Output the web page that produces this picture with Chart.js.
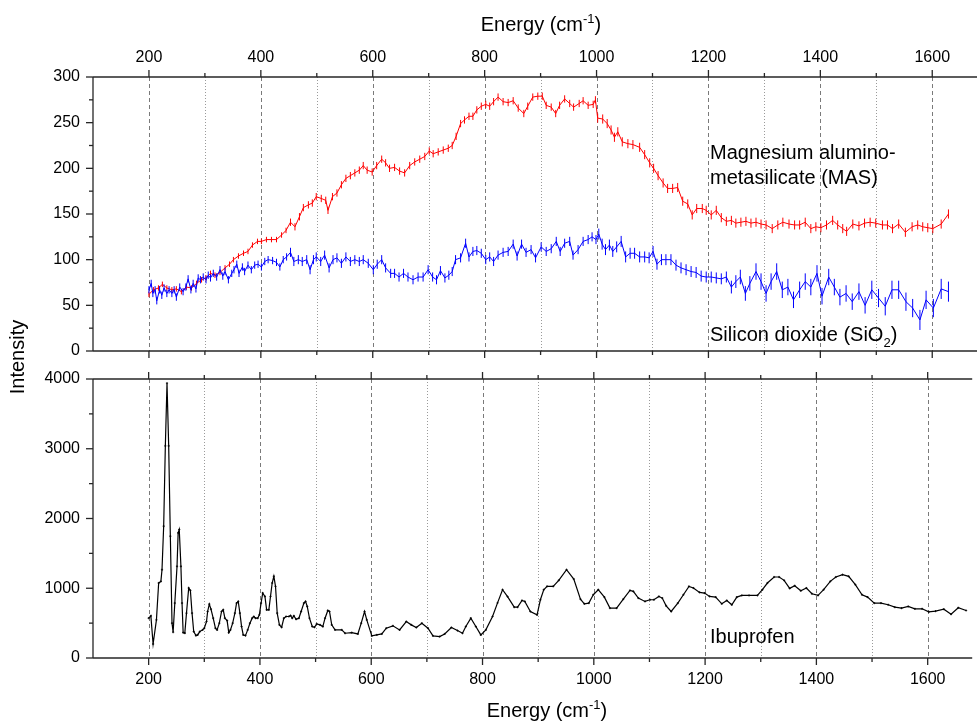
<!DOCTYPE html>
<html>
<head>
<meta charset="utf-8">
<script src="https://cdn.jsdelivr.net/npm/chart.js@4.4.1/dist/chart.umd.min.js"></script>
<style>
  html, body { margin: 0; padding: 0; background: #ffffff; }
  #wrap { position: relative; width: 977px; height: 722px; overflow: hidden; }
  canvas { position: absolute; left: 0; top: 0; }
</style>
</head>
<body>
<div id="wrap">
  <canvas id="topPanel" width="977" height="722"></canvas>
  <canvas id="bottomPanel" width="977" height="722"></canvas>
</div>
<script>
// ---------------- data ----------------
// Magnesium alumino-metasilicate (MAS): [energy cm-1, intensity, error]
const masPoints = [
  [200,62,3],[208,67,3],[217,69,3],[224,73,3],[232,69,3],[241,67,3],[249,68,3],[258,65,3],[267,70,3],[276,69,3],
  [285,74,3],[294,78,3],[302,80,3],[310,85,3],[318,83,3],[327,86,3],[336,91,3],[344,95,3],[351,100,3],[360,104,3],
  [369,107,3],[377,109,3],[385,116,3],[394,120,3],[401,120,3],[410,122,3],[419,122,3],[428,122,3],[437,127,3],[445,132,3],
  [453,141,4],[461,136,4],[469,147,4],[476,157,4],[485,160,4],[492,162,4],[499,169,4],[508,167,4],[516,165,4],[520,154,4],
  [528,169,4],[536,173,4],[544,182,4],[552,189,4],[560,192,4],[568,195,4],[576,198,4],[583,203,4],[590,198,4],[599,196,4],
  [607,203,4],[616,210,4],[623,206,4],[630,200,4],[639,201,4],[648,197,4],[657,195,4],[666,203,4],[675,207,4],[684,210,4],
  [693,213,4],[701,219,4],[708,216,4],[717,218,4],[726,220,4],[735,222,4],[742,225,4],[749,235,4],[757,249,4],[764,253,4],
  [772,257,4],[779,257,4],[786,264,4],[794,268,4],[802,270,4],[809,268,4],[816,273,4],[824,278,4],[833,273,4],[842,272,4],
  [851,274,4],[860,266,4],[870,260,4],[877,268,4],[886,278,4],[895,279,4],[903,279,4],[910,269,4],[919,267,4],[927,260,4],
  [934,269,4],[943,276,4],[952,271,4],[959,267,4],[969,271,4],[976,274,4],[985,269,4],[994,270,4],[998,275,4],[1002,255,5],
  [1011,254,5],[1019,249,5],[1026,242,5],[1032,234,5],[1038,240,5],[1046,229,5],[1056,227,5],[1065,226,5],[1077,223,5],[1086,215,5],
  [1095,206,5],[1102,200,5],[1110,192,5],[1119,184,5],[1127,178,5],[1136,178,5],[1145,179,5],[1154,164,5],[1163,161,5],[1171,149,5],
  [1179,156,5],[1189,156,5],[1196,154,5],[1205,149,5],[1214,154,5],[1223,146,5],[1232,142,5],[1241,143,5],[1249,140,5],[1258,141,5],
  [1267,142,5],[1276,140,5],[1285,141,5],[1294,139,5],[1303,138,5],[1314,134,5],[1324,138,5],[1333,141,5],[1344,139,5],[1354,138,5],
  [1363,138,5],[1373,141,5],[1383,134,5],[1392,136,5],[1401,135,5],[1411,138,5],[1422,143,5],[1431,138,5],[1440,134,5],[1447,131,5],
  [1458,139,5],[1469,137,5],[1479,140,5],[1489,141,5],[1499,140,5],[1511,138,5],[1520,138,5],[1529,134,5],[1540,139,5],[1552,130,5],
  [1564,136,5],[1574,138,5],[1583,136,5],[1592,135,5],[1601,134,5],[1616,139,5],[1629,150,5]
];

// Silicon dioxide (SiO2): [energy cm-1, intensity, error]
const sioPoints = [
  [200,67,4],[204,74,4],[207,63,4],[211,67,4],[214,55,4],[219,67,4],[223,61,4],[227,69,4],[232,63,4],[236,67,4],
  [241,63,4],[245,67,4],[249,59,4],[255,70,4],[261,65,4],[266,70,4],[270,79,4],[275,67,4],[279,74,4],[284,68,4],
  [288,80,4],[292,78,4],[297,81,4],[302,78,4],[306,83,4],[310,80,4],[315,85,4],[321,81,4],[327,89,4],[332,82,4],
  [336,87,4],[342,78,4],[348,85,4],[352,89,4],[357,95,4],[361,85,4],[367,92,4],[371,87,4],[377,94,4],[383,89,4],
  [389,94,4],[395,95,4],[401,92,4],[407,98,4],[413,100,4],[421,99,4],[428,97,4],[434,92,4],[440,100,4],[446,103,4],
  [453,108,5],[459,98,5],[467,100,5],[474,98,5],[482,100,5],[488,89,5],[494,100,5],[499,103,5],[507,98,5],[514,105,5],
  [522,91,5],[529,100,5],[536,102,5],[544,96,5],[552,103,5],[560,98,5],[568,100,5],[576,98,5],[583,100,5],[592,96,5],
  [601,89,5],[608,95,5],[616,100,5],[623,91,5],[632,85,5],[639,85,5],[647,81,5],[655,85,5],[663,81,5],[672,78,5],
  [681,81,5],[690,81,5],[699,89,5],[707,81,5],[714,78,5],[721,88,5],[729,80,5],[736,83,5],[742,87,5],[748,100,5],
  [757,102,5],[766,118,5],[772,103,5],[779,109,5],[786,110,5],[794,107,5],[802,100,5],[809,103,5],[816,98,5],[824,105,5],
  [833,108,5],[842,109,5],[851,117,5],[858,104,5],[866,117,5],[874,108,5],[883,111,5],[891,102,5],[901,114,5],[910,109,5],
  [919,112,5],[928,120,5],[935,109,5],[943,118,5],[952,120,5],[958,105,5],[967,111,5],[976,120,5],[985,122,5],[992,125,5],
  [999,122,5],[1004,128,6],[1010,117,6],[1016,111,6],[1023,116,6],[1029,109,6],[1036,114,6],[1044,120,6],[1052,103,6],[1060,107,6],
  [1068,107,6],[1077,103,6],[1086,103,6],[1094,102,6],[1101,109,6],[1108,95,6],[1116,100,6],[1124,100,6],[1133,100,6],[1142,94,6],
  [1151,91,6],[1160,89,6],[1169,87,6],[1178,86,6],[1187,82,6],[1196,81,6],[1205,81,6],[1214,80,6],[1223,79,6],[1232,81,6],
  [1241,70,7],[1249,76,7],[1257,81,8],[1266,63,8],[1274,74,8],[1285,87,9],[1294,76,9],[1303,63,9],[1312,76,9],[1322,87,9],
  [1332,67,9],[1342,70,9],[1352,56,9],[1363,67,9],[1373,76,9],[1383,70,9],[1394,85,9],[1403,60,9],[1415,81,9],[1425,70,9],
  [1435,59,9],[1446,63,9],[1457,54,9],[1469,65,9],[1480,50,9],[1492,67,10],[1504,58,10],[1516,49,10],[1528,67,10],[1540,67,10],
  [1553,54,10],[1565,47,10],[1578,34,11],[1589,56,10],[1602,47,10],[1616,68,11],[1629,65,11]
];

// Ibuprofen: [energy cm-1, intensity]
const ibuPoints = [
  [200,571],[204,604],[208,201],[214,547],[218,1075],[222,1098],[224,1266],[227,1890],[230,3041],[233,3940],
  [236,3041],[239,1746],[242,499],[244,370],[247,787],[251,1314],[253,1794],[255,1842],[258,1314],[260,787],
  [262,364],[265,357],[268,643],[272,1003],[275,969],[278,643],[281,379],[285,321],[288,331],[292,379],
  [297,403],[300,427],[304,523],[306,667],[309,772],[312,700],[316,571],[320,427],[323,403],[327,499],
  [331,667],[334,691],[337,571],[341,537],[344,364],[347,403],[351,499],[355,643],[358,787],[361,811],
  [364,643],[367,451],[370,331],[374,321],[378,403],[382,499],[386,571],[389,595],[392,571],[396,571],
  [399,619],[402,787],[405,931],[409,883],[412,691],[416,691],[419,883],[422,1075],[425,1171],[428,1027],
  [431,643],[435,475],[439,441],[443,571],[447,595],[452,595],[455,609],[458,571],[461,604],[465,556],
  [470,571],[474,667],[479,787],[482,811],[485,739],[489,571],[494,451],[498,441],[502,489],[508,475],
  [513,451],[517,571],[522,681],[525,667],[529,475],[535,403],[547,403],[553,355],[565,364],[576,345],
  [582,499],[588,667],[592,547],[601,317],[610,331],[619,345],[627,427],[639,461],[651,403],[663,523],
  [672,475],[681,437],[691,499],[702,427],[711,317],[723,307],[732,345],[744,437],[755,393],[764,355],
  [770,451],[779,571],[788,451],[797,331],[806,403],[818,595],[827,790],[836,979],[845,880],[857,729],
  [863,729],[871,825],[876,811],[886,667],[898,619],[904,835],[910,979],[916,1027],[927,1027],[937,1113],
  [951,1266],[964,1132],[976,844],[983,777],[991,787],[999,907],[1008,979],[1019,873],[1029,715],[1041,715],
  [1053,844],[1065,969],[1071,955],[1080,859],[1092,811],[1101,835],[1108,835],[1117,883],[1123,859],[1130,748],
  [1139,667],[1151,787],[1161,907],[1171,1027],[1179,1003],[1190,941],[1199,931],[1208,883],[1219,873],[1230,777],
  [1239,825],[1248,763],[1257,873],[1266,897],[1279,897],[1294,897],[1303,979],[1312,1075],[1324,1161],[1333,1161],
  [1342,1113],[1352,998],[1361,1036],[1372,964],[1382,1003],[1392,921],[1403,897],[1413,979],[1425,1099],[1435,1161],
  [1447,1195],[1458,1171],[1470,1051],[1482,907],[1492,873],[1504,787],[1516,787],[1529,763],[1541,729],[1553,715],
  [1565,739],[1577,705],[1590,705],[1602,662],[1614,672],[1629,700],[1642,628],[1655,720],[1669,681]
];

// axis ticks
const xMajorTicks = [200, 400, 600, 800, 1000, 1200, 1400, 1600];
const xMinorTicks = [300, 500, 700, 900, 1100, 1300, 1500];
const yTopMajorTicks = [0, 50, 100, 150, 200, 250, 300];
const yTopMinorTicks = [25, 75, 125, 175, 225, 275];
const yBottomMajorTicks = [0, 1000, 2000, 3000, 4000];
const yBottomMinorTicks = [500, 1500, 2500, 3500];

// ---------------- helpers ----------------
const FONT = "'Liberation Sans', Arial, Helvetica, sans-serif";
Chart.defaults.font.family = FONT;
Chart.defaults.color = '#000';

function toXY(arr) {
  return arr.map(p => ({ x: p[0], y: p[1], e: p.length > 2 ? p[2] : 0 }));
}

// rich text: segments of {t, mode:'n'|'sup'|'sub'}
function drawRich(ctx, segs, x, baseline, size, align) {
  const small = Math.round(size * 0.65);
  let total = 0;
  segs.forEach(s => {
    ctx.font = (s.mode === 'n' ? size : small) + 'px ' + FONT;
    s.w = ctx.measureText(s.t).width;
    total += s.w;
  });
  let cx = align === 'center' ? x - total / 2 : x;
  ctx.textAlign = 'left';
  ctx.textBaseline = 'alphabetic';
  segs.forEach(s => {
    ctx.font = (s.mode === 'n' ? size : small) + 'px ' + FONT;
    const dy = s.mode === 'sup' ? -size * 0.42 : (s.mode === 'sub' ? size * 0.3 : 0);
    ctx.fillText(s.t, cx, baseline + dy);
    cx += s.w;
  });
}

const framePlugin = {
  id: 'frame',
  beforeDatasetsDraw(chart) {
    const { ctx, chartArea: a } = chart;
    const x = chart.scales.x;
    ctx.save();
    ctx.lineWidth = 1;
    xMajorTicks.forEach(v => {
      const px = Math.round(x.getPixelForValue(v)) + 0.5;
      ctx.strokeStyle = '#7a7a7a';
      ctx.setLineDash([4, 3]);
      ctx.beginPath(); ctx.moveTo(px, a.top); ctx.lineTo(px, a.bottom); ctx.stroke();
    });
    xMinorTicks.forEach(v => {
      const px = Math.round(x.getPixelForValue(v)) + 0.5;
      ctx.strokeStyle = '#9a9a9a';
      ctx.setLineDash([1, 2]);
      ctx.beginPath(); ctx.moveTo(px, a.top); ctx.lineTo(px, a.bottom); ctx.stroke();
    });
    ctx.restore();
  },
  afterDatasetsDraw(chart, args, opts) {
    const { ctx, chartArea: a } = chart;
    const x = chart.scales.x, y = chart.scales.y;
    ctx.save();
    ctx.setLineDash([]);
    ctx.strokeStyle = '#262626';
    ctx.lineWidth = 1.3;
    const seg = (x1, y1, x2, y2) => { ctx.beginPath(); ctx.moveTo(x1, y1); ctx.lineTo(x2, y2); ctx.stroke(); };
    // frame lines: top, bottom, left
    seg(a.left, a.top, a.right, a.top);
    seg(a.left, a.bottom, a.right, a.bottom);
    seg(a.left, a.top, a.left, a.bottom);
    const MAJ = 7, MIN = 4;
    xMajorTicks.forEach(v => {
      const px = x.getPixelForValue(v);
      seg(px, a.top, px, a.top - MAJ);
      seg(px, a.bottom, px, a.bottom + MAJ);
    });
    xMinorTicks.forEach(v => {
      const px = x.getPixelForValue(v);
      seg(px, a.top, px, a.top - MIN);
      seg(px, a.bottom, px, a.bottom + MIN);
    });
    (opts.yMajor || []).forEach(v => {
      const py = y.getPixelForValue(v);
      seg(a.left - MAJ, py, a.left, py);
    });
    (opts.yMinor || []).forEach(v => {
      const py = y.getPixelForValue(v);
      seg(a.left - MIN, py, a.left, py);
    });
    ctx.restore();
  }
};

const errorBarPlugin = {
  id: 'errorBars',
  afterDatasetDraw(chart, args) {
    const ds = chart.data.datasets[args.index];
    if (!ds.showErrors) return;
    const { ctx, chartArea: a } = chart;
    const x = chart.scales.x, y = chart.scales.y;
    ctx.save();
    ctx.beginPath();
    ctx.rect(a.left, a.top, a.right - a.left, a.bottom - a.top);
    ctx.clip();
    ctx.strokeStyle = ds.borderColor;
    ctx.lineWidth = 1;
    ds.data.forEach(d => {
      const px = x.getPixelForValue(d.x);
      const y1 = y.getPixelForValue(d.y - d.e);
      const y2 = y.getPixelForValue(d.y + d.e);
      ctx.beginPath(); ctx.moveTo(px, y1); ctx.lineTo(px, y2); ctx.stroke();
    });
    ctx.restore();
  }
};

const textPlugin = {
  id: 'texts',
  afterDraw(chart, args, opts) {
    const ctx = chart.ctx;
    ctx.save();
    ctx.fillStyle = '#000';
    (opts.items || []).forEach(it => {
      if (it.rotate) {
        ctx.save();
        ctx.translate(it.x, it.y);
        ctx.rotate(-Math.PI / 2);
        ctx.font = it.size + 'px ' + FONT;
        ctx.textAlign = 'center';
        ctx.textBaseline = 'middle';
        ctx.fillText(it.segs[0].t, 0, 0);
        ctx.restore();
      } else {
        drawRich(ctx, it.segs, it.x, it.y, it.size, it.align);
      }
    });
    ctx.restore();
  }
};

function xScale(position, height, pad) {
  return {
    type: 'linear', position: position, min: 100, max: 1680,
    grid: { display: false, drawTicks: false }, border: { display: false },
    afterBuildTicks: s => { s.ticks = xMajorTicks.map(v => ({ value: v })); },
    afterFit: s => { s.height = height; },
    ticks: { padding: pad, font: { size: 16, family: FONT }, color: '#000', maxRotation: 0, minRotation: 0,
             autoSkip: false, callback: v => String(v) }
  };
}
function yScale(min, max, majors) {
  return {
    type: 'linear', position: 'left', min: min, max: max,
    grid: { display: false, drawTicks: false }, border: { display: false },
    afterBuildTicks: s => { s.ticks = majors.map(v => ({ value: v })); },
    afterFit: s => { s.width = 93; },
    ticks: { padding: 13, font: { size: 16, family: FONT }, color: '#000', autoSkip: false, callback: v => String(v) }
  };
}

const energyTitle = [{ t: 'Energy (cm', mode: 'n' }, { t: '-1', mode: 'sup' }, { t: ')', mode: 'n' }];

// ---------------- top panel ----------------
new Chart(document.getElementById('topPanel'), {
  type: 'line',
  data: {
    datasets: [
      { label: 'Silicon dioxide (SiO2)', data: toXY(sioPoints), borderColor: '#0000ff', borderWidth: 1,
        pointRadius: 0, tension: 0, showErrors: true },
      { label: 'Magnesium alumino-metasilicate (MAS)', data: toXY(masPoints), borderColor: '#ff0000', borderWidth: 1,
        pointRadius: 0, tension: 0, showErrors: true }
    ]
  },
  options: {
    responsive: false, animation: false, events: [],
    layout: { padding: { left: 0, right: 0, top: 0, bottom: 371 } },
    plugins: {
      legend: { display: false }, tooltip: { enabled: false },
      frame: { yMajor: yTopMajorTicks, yMinor: yTopMinorTicks },
      texts: { items: [
        { segs: energyTitle, x: 541, y: 31, size: 20, align: 'center' },
        { segs: [{ t: 'Magnesium alumino-', mode: 'n' }], x: 710, y: 159, size: 20, align: 'left' },
        { segs: [{ t: 'metasilicate (MAS)', mode: 'n' }], x: 710, y: 184, size: 20, align: 'left' },
        { segs: [{ t: 'Silicon dioxide (SiO', mode: 'n' }, { t: '2', mode: 'sub' }, { t: ')', mode: 'n' }], x: 710, y: 341, size: 20, align: 'left' }
      ] }
    },
    scales: { x: xScale('top', 77, 10), y: yScale(0, 300, yTopMajorTicks) }
  },
  plugins: [framePlugin, errorBarPlugin, textPlugin]
});

// ---------------- bottom panel ----------------
new Chart(document.getElementById('bottomPanel'), {
  type: 'line',
  data: {
    datasets: [
      { label: 'Ibuprofen', data: toXY(ibuPoints), borderColor: '#000000', borderWidth: 1.2,
        pointRadius: 1.1, pointStyle: 'cross', pointBorderColor: '#000', pointBorderWidth: 0.8, tension: 0 }
    ]
  },
  options: {
    responsive: false, animation: false, events: [],
    layout: { padding: { left: 0, right: 0, top: 379, bottom: 0 } },
    plugins: {
      legend: { display: false }, tooltip: { enabled: false },
      frame: { yMajor: yBottomMajorTicks, yMinor: yBottomMinorTicks },
      texts: { items: [
        { segs: energyTitle, x: 547, y: 717, size: 20, align: 'center' },
        { segs: [{ t: 'Ibuprofen', mode: 'n' }], x: 710, y: 643, size: 20, align: 'left' },
        { segs: [{ t: 'Intensity', mode: 'n' }], x: 18, y: 357, size: 20, rotate: true }
      ] }
    },
    scales: { x: xScale('bottom', 64, 12), y: yScale(0, 4000, yBottomMajorTicks) }
  },
  plugins: [framePlugin, errorBarPlugin, textPlugin]
});
</script>
</body>
</html>
